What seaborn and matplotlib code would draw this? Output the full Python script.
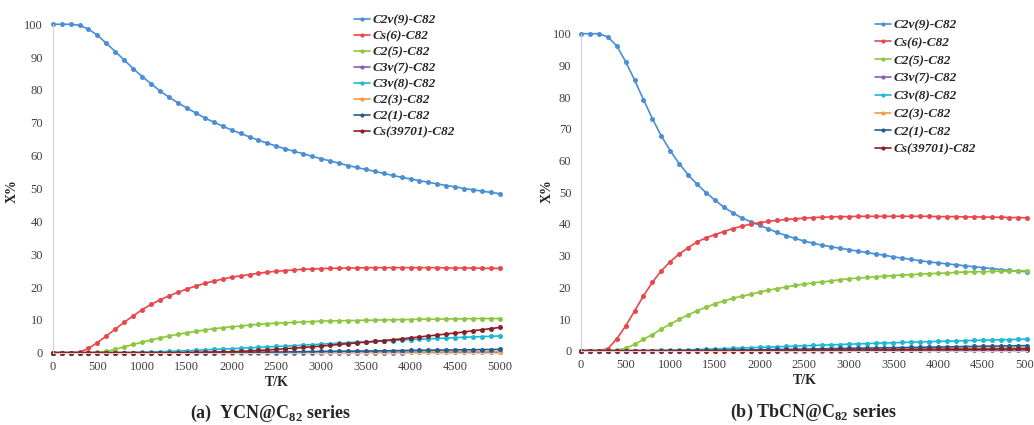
import matplotlib
matplotlib.use("Agg")
import matplotlib.pyplot as plt
from matplotlib.lines import Line2D
import seaborn as sns
import pandas as pd

# ---------------- data ----------------
T = list(range(0, 5001, 100))

SERIES = ["C2v(9)-C82", "Cs(6)-C82", "C2(5)-C82", "C3v(7)-C82",
          "C3v(8)-C82", "C2(3)-C82", "C2(1)-C82", "Cs(39701)-C82"]
COLORS = ["#4A8FD6", "#E8484B", "#8DC640", "#8C5BB5",
          "#1CB8D4", "#F59B45", "#245D8E", "#8B2027"]

# (a) YCN@C82
A_C2v9 = [100, 100, 100, 99.7, 98.5, 96.7, 94.2, 91.7, 89.1, 86.5,
          84.1, 81.9, 79.7, 77.8, 76.1, 74.5, 73.0, 71.5, 70.2, 69.0,
          67.8, 66.8, 65.7, 64.7, 63.8, 62.9, 62.1, 61.3, 60.6, 59.8,
          59.1, 58.4, 57.7, 57.0, 56.4, 55.8, 55.2, 54.6, 54.0, 53.4,
          52.9, 52.4, 51.9, 51.4, 50.9, 50.5, 50.0, 49.6, 49.2, 48.8, 48.4]
A_Cs6 = [0, 0, 0, 0.2, 1.3, 3.1, 5.1, 7.2, 9.3, 11.2,
         13.1, 14.7, 16.1, 17.3, 18.4, 19.4, 20.3, 21.1, 21.8, 22.4,
         23.0, 23.4, 23.8, 24.2, 24.5, 24.8, 25.0, 25.2, 25.4, 25.5,
         25.6, 25.7, 25.7, 25.8, 25.8, 25.9, 25.9, 25.9, 25.9, 25.9,
         25.9, 25.9, 25.9, 25.9, 25.8, 25.8, 25.8, 25.8, 25.7, 25.7, 25.7]
A_C25 = [0, 0, 0, 0, 0, 0.2, 0.4, 1.0, 1.8, 2.5,
         3.2, 3.9, 4.5, 5.1, 5.6, 6.1, 6.5, 6.9, 7.3, 7.6,
         7.9, 8.1, 8.4, 8.6, 8.8, 9.0, 9.1, 9.2, 9.4, 9.5,
         9.6, 9.7, 9.7, 9.8, 9.8, 9.9, 9.9, 10.0, 10.0, 10.1,
         10.1, 10.2, 10.2, 10.2, 10.3, 10.3, 10.3, 10.4, 10.4, 10.4, 10.4]
A_C3v7 = [0, 0, 0, 0, 0, 0, 0, 0, 0, 0,
          0, 0, 0, 0, 0, 0, 0, 0, 0, 0,
          0, 0, 0, 0, 0, 0, 0, 0, 0, 0,
          0.02, 0.02, 0.03, 0.03, 0.04, 0.04, 0.05, 0.05, 0.06, 0.06,
          0.07, 0.07, 0.08, 0.08, 0.09, 0.09, 0.1, 0.1, 0.1, 0.11, 0.12]
A_C3v8 = [0, 0, 0, 0, 0, 0, 0, 0, 0, 0.05,
          0.1, 0.2, 0.3, 0.4, 0.5, 0.6, 0.7, 0.85, 1.0, 1.1,
          1.2, 1.35, 1.5, 1.6, 1.75, 1.9, 2.0, 2.15, 2.3, 2.45,
          2.6, 2.75, 2.9, 3.05, 3.2, 3.3, 3.45, 3.6, 3.7, 3.85,
          4.0, 4.1, 4.2, 4.35, 4.45, 4.6, 4.7, 4.8, 4.9, 5.0, 5.1]
A_C23 = [0, 0, 0, 0, 0, 0, 0, 0, 0, 0,
         0, 0, 0, 0, 0, 0, 0, 0, 0, 0,
         0.02, 0.03, 0.04, 0.05, 0.06, 0.07, 0.08, 0.09, 0.1, 0.11,
         0.12, 0.13, 0.14, 0.15, 0.16, 0.17, 0.18, 0.19, 0.2, 0.21,
         0.22, 0.23, 0.24, 0.25, 0.26, 0.27, 0.28, 0.28, 0.29, 0.3, 0.3]
A_C21 = [0, 0, 0, 0, 0, 0, 0, 0, 0, 0,
         0, 0, 0, 0, 0, 0, 0, 0, 0.05, 0.08,
         0.1, 0.12, 0.14, 0.16, 0.18, 0.2, 0.24, 0.28, 0.32, 0.36,
         0.4, 0.42, 0.44, 0.46, 0.48, 0.5, 0.54, 0.58, 0.62, 0.66,
         0.7, 0.73, 0.76, 0.79, 0.82, 0.85, 0.88, 0.91, 0.94, 0.97, 1.0]
A_Cs39701 = [0, 0, 0, 0, 0, 0, 0, 0, 0, 0,
             0, 0, 0, 0, 0, 0.05, 0.1, 0.15, 0.2, 0.25,
             0.3, 0.4, 0.55, 0.7, 0.85, 1.0, 1.2, 1.4, 1.6, 1.8,
             2.0, 2.25, 2.5, 2.75, 3.0, 3.2, 3.45, 3.7, 3.95, 4.2,
             4.5, 4.8, 5.1, 5.4, 5.7, 6.0, 6.3, 6.7, 7.0, 7.35, 7.7]

# (b) TbCN@C82
B_C2v9 = [100, 100, 100, 99.0, 96.2, 91.2, 85.4, 79.2, 73.2, 67.7,
          63.1, 59.0, 55.5, 52.5, 49.9, 47.5, 45.3, 43.5, 41.9, 40.7,
          39.6, 38.4, 37.3, 36.3, 35.4, 34.6, 33.9, 33.3, 32.8, 32.3,
          31.9, 31.4, 31.0, 30.5, 30.1, 29.6, 29.2, 28.8, 28.4, 28.0,
          27.7, 27.4, 27.1, 26.8, 26.5, 26.2, 25.9, 25.6, 25.3, 25.1, 24.9]
B_Cs6 = [0, 0, 0, 0.6, 3.7, 7.8, 12.5, 17.3, 21.6, 25.2,
         28.1, 30.5, 32.5, 34.3, 35.6, 36.6, 37.6, 38.5, 39.3, 39.9,
         40.4, 40.8, 41.1, 41.4, 41.6, 41.8, 42.0, 42.1, 42.2, 42.3,
         42.3, 42.4, 42.4, 42.4, 42.4, 42.4, 42.4, 42.4, 42.4, 42.4,
         42.3, 42.3, 42.3, 42.2, 42.2, 42.2, 42.1, 42.1, 42.0, 42.0, 41.9]
B_C25 = [0, 0, 0, 0, 0.2, 0.7, 2.0, 3.6, 5.1, 6.8,
         8.4, 9.9, 11.3, 12.6, 13.7, 14.8, 15.7, 16.5, 17.2, 17.8,
         18.5, 19.1, 19.6, 20.1, 20.6, 21.0, 21.4, 21.7, 22.0, 22.4,
         22.7, 22.9, 23.1, 23.3, 23.5, 23.7, 23.9, 24.0, 24.2, 24.3,
         24.4, 24.5, 24.7, 24.8, 24.9, 24.9, 25.0, 25.1, 25.1, 25.2, 25.2]
B_C3v7 = [0, 0, 0, 0, 0, 0, 0, 0, 0, 0,
          0, 0, 0, 0, 0, 0, 0, 0, 0, 0,
          0.02, 0.02, 0.03, 0.03, 0.04, 0.04, 0.05, 0.05, 0.06, 0.06,
          0.07, 0.07, 0.08, 0.08, 0.09, 0.09, 0.1, 0.1, 0.11, 0.11,
          0.12, 0.12, 0.13, 0.13, 0.14, 0.14, 0.15, 0.15, 0.16, 0.16, 0.17]
B_C3v8 = [0, 0, 0, 0, 0, 0, 0, 0, 0.05, 0.1,
          0.15, 0.2, 0.3, 0.35, 0.45, 0.55, 0.65, 0.75, 0.85, 0.95,
          1.05, 1.15, 1.25, 1.35, 1.45, 1.55, 1.65, 1.75, 1.85, 1.95,
          2.05, 2.15, 2.25, 2.35, 2.45, 2.5, 2.6, 2.7, 2.8, 2.85,
          2.95, 3.0, 3.1, 3.15, 3.25, 3.3, 3.4, 3.45, 3.5, 3.6, 3.65]
B_C23 = [0, 0, 0, 0, 0, 0, 0, 0, 0, 0,
         0, 0, 0, 0, 0, 0, 0.02, 0.04, 0.06, 0.08,
         0.1, 0.12, 0.15, 0.17, 0.2, 0.22, 0.25, 0.27, 0.3, 0.32,
         0.35, 0.38, 0.41, 0.44, 0.47, 0.5, 0.53, 0.56, 0.59, 0.62,
         0.65, 0.67, 0.7, 0.72, 0.75, 0.77, 0.8, 0.82, 0.85, 0.87, 0.9]
B_C21 = [0, 0, 0, 0, 0, 0, 0, 0, 0, 0,
         0.02, 0.03, 0.05, 0.07, 0.08, 0.1, 0.14, 0.18, 0.22, 0.26,
         0.3, 0.34, 0.38, 0.42, 0.46, 0.5, 0.55, 0.6, 0.65, 0.7,
         0.75, 0.79, 0.83, 0.87, 0.91, 0.95, 0.99, 1.03, 1.07, 1.11,
         1.15, 1.2, 1.25, 1.3, 1.35, 1.4, 1.44, 1.48, 1.52, 1.56, 1.6]
B_Cs39701 = [0, 0, 0, 0, 0, 0, 0, 0, 0, 0,
             0, 0, 0, 0, 0, 0, 0, 0, 0, 0,
             0.01, 0.03, 0.05, 0.07, 0.09, 0.11, 0.13, 0.15, 0.17, 0.19,
             0.2, 0.22, 0.24, 0.26, 0.28, 0.3, 0.32, 0.34, 0.36, 0.38,
             0.4, 0.42, 0.44, 0.46, 0.48, 0.5, 0.52, 0.54, 0.56, 0.58, 0.6]

XTICKS = list(range(0, 5001, 500))
YTICKS = list(range(0, 101, 10))
CAPTIONS = [r"(a)  YCN@C$_\mathbf{82}$ series", r"(b) TbCN@C$_\mathbf{82}$ series"]

PANEL_A = [A_C2v9, A_Cs6, A_C25, A_C3v7, A_C3v8, A_C23, A_C21, A_Cs39701]
PANEL_B = [B_C2v9, B_Cs6, B_C25, B_C3v7, B_C3v8, B_C23, B_C21, B_Cs39701]

# ---------------- style ----------------
sns.set_theme(style="white")
plt.rcParams["font.family"] = ["Liberation Serif", "DejaVu Serif"]
plt.rcParams["mathtext.fontset"] = "custom"
plt.rcParams["mathtext.rm"] = "Liberation Serif"
plt.rcParams["mathtext.bf"] = "Liberation Serif:bold"

fig = plt.figure(figsize=(10.34, 4.25), dpi=100)
W, H = 1034, 425


def px_axes(x0, x1, ytop, ybot):
    return fig.add_axes([x0 / W, 1 - ybot / H, (x1 - x0) / W, (ybot - ytop) / H])


axA = px_axes(52.7, 500.0, 24.3, 352.7)
axB = px_axes(581.0, 1027.3, 33.7, 350.7)

palette = dict(zip(SERIES, COLORS))

for ax, panel in ((axA, PANEL_A), (axB, PANEL_B)):
    rows = []
    for name, vals in zip(SERIES, panel):
        for t, v in zip(T, vals):
            rows.append({"T": t, "X": v, "series": name})
    df = pd.DataFrame(rows)
    sns.lineplot(data=df, x="T", y="X", hue="series", hue_order=SERIES,
                 palette=palette, marker="o", markersize=3.6,
                 markeredgewidth=0, linewidth=1.2, sort=False,
                 legend=False, ax=ax)
    for ln in ax.lines:
        ln.set_clip_on(False)
    ax.set_xlim(0, 5000)
    ax.set_ylim(0, 100)
    ax.set_xticks(XTICKS)
    ax.set_yticks(YTICKS)
    ax.tick_params(axis="both", length=0, labelsize=9, labelcolor="#404040")
    ax.tick_params(axis="y", pad=7)
    ax.tick_params(axis="x", pad=6)
    ax.set_xlabel("")
    ax.set_ylabel("")
    for s in ("top", "right"):
        ax.spines[s].set_visible(False)
    for s in ("left", "bottom"):
        ax.spines[s].set_color("#D0D0D0")
        ax.spines[s].set_linewidth(0.8)

handles = [Line2D([0], [0], color=c, marker="o", markersize=3, markeredgewidth=0,
                  linewidth=1.2) for c in COLORS]
leg_font = {"family": "Liberation Serif", "style": "italic",
            "weight": "bold", "size": 9.5}
legA = fig.legend(handles, SERIES, loc="upper left",
                  bbox_to_anchor=(354 / W, 1 - 14 / H), frameon=False,
                  prop=leg_font, handlelength=1.25, handletextpad=0.15,
                  labelspacing=0.29, borderpad=0, borderaxespad=0)
legB = fig.legend(handles, SERIES, loc="upper left",
                  bbox_to_anchor=(875 / W, 1 - 19 / H), frameon=False,
                  prop=leg_font, handlelength=1.25, handletextpad=0.15,
                  labelspacing=0.42, borderpad=0, borderaxespad=0)

# axis titles
fig.text(12 / W, 1 - 191 / H, "X%", rotation=90, ha="center", va="center",
         fontsize=10, fontweight="bold")
fig.text(547 / W, 1 - 191 / H, "X%", rotation=90, ha="center", va="center",
         fontsize=10, fontweight="bold")
fig.text(277 / W, 1 - 383 / H, "T/K", ha="center", va="center",
         fontsize=10, fontweight="bold")
fig.text(805 / W, 1 - 381 / H, "T/K", ha="center", va="center",
         fontsize=10, fontweight="bold")

# captions
fig.text(270 / W, 1 - 413 / H, CAPTIONS[0], ha="center", va="center",
         fontsize=13, fontweight="bold")
fig.text(813 / W, 1 - 412 / H, CAPTIONS[1], ha="center", va="center",
         fontsize=13, fontweight="bold")

fig.savefig("out.png", dpi=100, facecolor="white")
